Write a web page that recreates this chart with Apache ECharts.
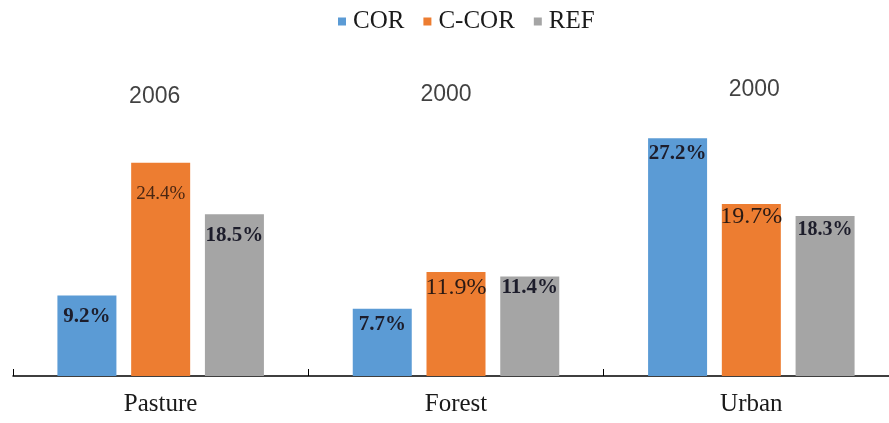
<!DOCTYPE html>
<html>
<head>
<meta charset="utf-8">
<script src="https://cdn.jsdelivr.net/npm/echarts@6/dist/echarts.min.js"></script>
<style>
  html, body { margin: 0; padding: 0; background: #fff; }
  #chart { width: 889px; height: 423px; }
</style>
</head>
<body>
<div id="chart"></div>
<script>
// Land-use categories and the share (%) recorded for each group
const categories = ['Pasture', 'Forest', 'Urban'];
const seriesNames = ['COR', 'C-COR', 'REF'];
const corValues = [9.2, 7.7, 27.2];
const ccorValues = [24.4, 11.9, 19.7];
const refValues = [18.5, 11.4, 18.3];
// Reference year printed above each group
const groupYears = ['2006', '2000', '2000'];

const serif = '"Liberation Serif", "Times New Roman", serif';
const colors = ['#5B9BD5', '#ED7D31', '#A5A5A5'];

// Vertical placement of the year captions (axis units) and their small horizontal nudges
const yearLevel = [32.0, 32.2, 32.8];
const yearNudge = [-6, -10, 3];

// Per-bar label look: [fontSize, bold, distance from bar top, colour]
const boldInk = '#1d1d2b';
const labelLook = {
  'COR':   [[21, true, 10, boldInk], [21, true, 5, boldInk], [21, true, 5, boldInk]],
  'C-COR': [[19, false, 22, '#4a2612'], [24, false, 4, '#2a1a14'], [24, false, 1, '#2a1a14']],
  'REF':   [[21, true, 11, boldInk], [21, true, 1, boldInk], [20, true, 4, boldInk]]
};

function barData(name, values) {
  return values.map((v, i) => {
    const [size, bold, dist, ink] = labelLook[name][i];
    return {
      value: v,
      label: {
        show: true,
        position: 'insideTop',
        distance: dist,
        fontFamily: serif,
        fontSize: size,
        fontWeight: bold ? 'bold' : 'normal',
        color: ink,
        formatter: p => p.value.toFixed(1) + '%'
      }
    };
  });
}

function barSeries(name, values, idx) {
  return {
    name: name,
    type: 'bar',
    barWidth: 59,
    barGap: '25%',
    itemStyle: { color: colors[idx] },
    emphasis: { disabled: true },
    data: barData(name, values)
  };
}

const chart = echarts.init(document.getElementById('chart'), null, { renderer: 'canvas' });

chart.setOption({
  animation: false,
  color: colors,
  legend: {
    data: seriesNames,
    top: 4,
    left: 333,
    icon: 'rect',
    itemWidth: 8,
    itemHeight: 8,
    itemGap: 19,
    textStyle: { fontFamily: serif, fontSize: 25, color: '#1a1a1a', padding: [0, 0, 0, 2] }
  },
  // the plot runs a little past the right edge of the canvas
  grid: { left: 13, width: 886, top: 44, bottom: 47, containLabel: false, outerBoundsMode: 'none' },
  xAxis: {
    type: 'category',
    data: categories,
    axisLine: { lineStyle: { color: '#000', width: 1.5 } },
    axisTick: { show: true, inside: true, length: 7, lineStyle: { color: '#000', width: 1 } },
    axisLabel: { fontFamily: serif, fontSize: 25, color: '#1a1a1a', margin: 16 }
  },
  yAxis: {
    type: 'value',
    min: 0,
    max: 38,
    show: false,
    splitLine: { show: false }
  },
  series: [
    barSeries('COR', corValues, 0),
    barSeries('C-COR', ccorValues, 1),
    barSeries('REF', refValues, 2),
    {
      name: 'year',
      type: 'scatter',
      symbolSize: 0,
      silent: true,
      tooltip: { show: false },
      data: groupYears.map((y, i) => ({
        value: [i, yearLevel[i]],
        label: {
          show: true,
          position: 'inside',
          offset: [yearNudge[i], 0],
          formatter: y,
          fontFamily: '"Liberation Sans", Arial, sans-serif',
          fontSize: 23,
          color: '#111'
        }
      }))
    }
  ]
});
</script>
</body>
</html>
